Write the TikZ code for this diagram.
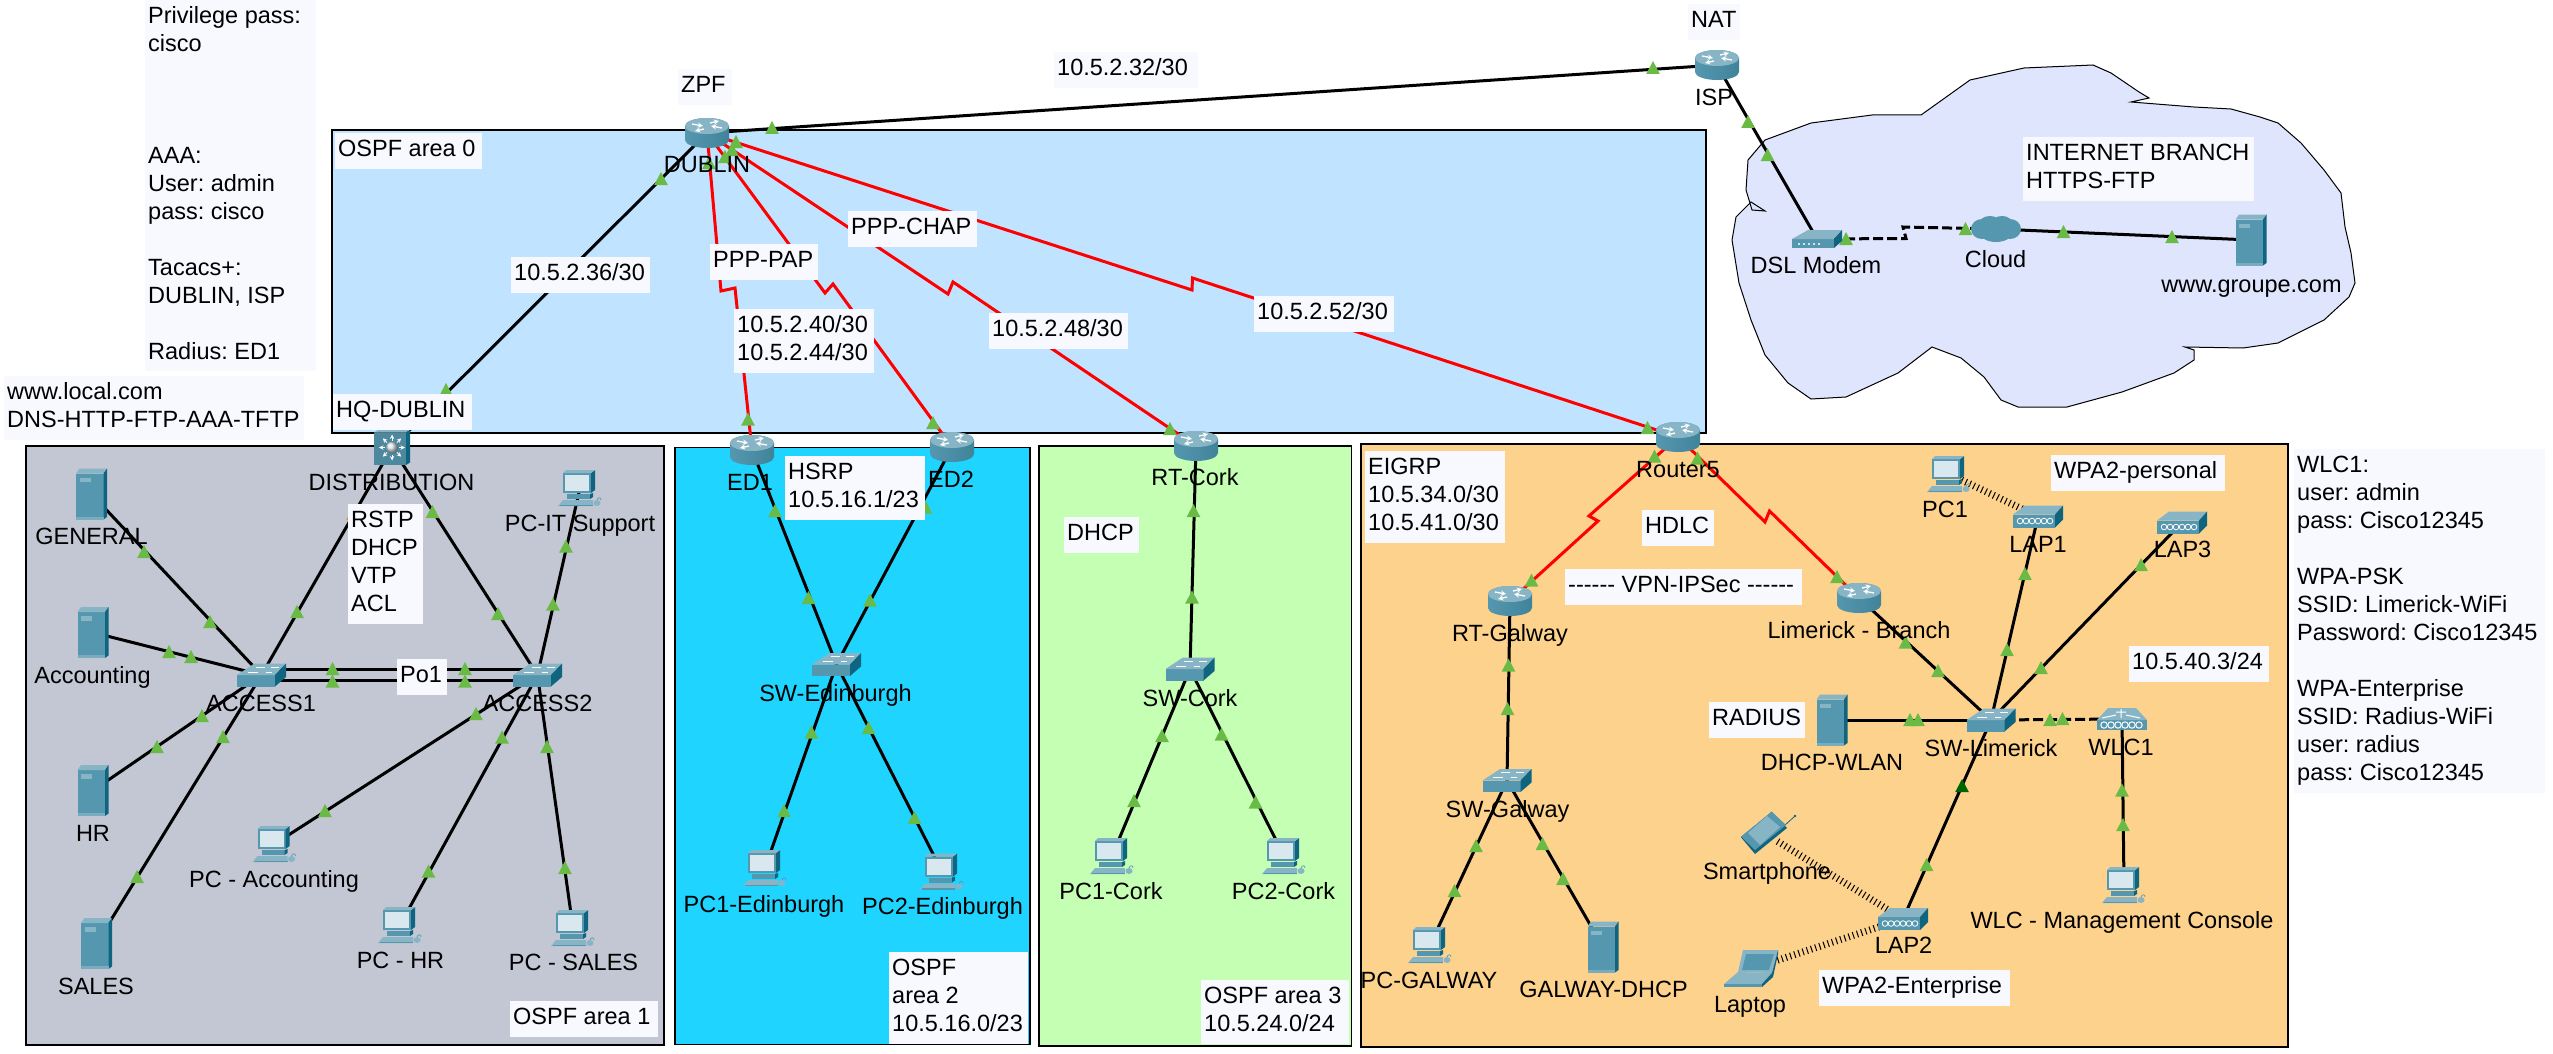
\documentclass[tikz,border=0pt]{standalone}
\usepackage{fontspec}
\setmainfont{Liberation Sans}
\usetikzlibrary{backgrounds}
\definecolor{zonezero}{HTML}{C0E3FF}
\definecolor{zoneone}{HTML}{C3C6D3}
\definecolor{zonetwo}{HTML}{1FD4FF}
\definecolor{zonethree}{HTML}{C4FFB4}
\definecolor{zonefive}{HTML}{FDD28D}
\definecolor{zonecloud}{HTML}{DFE5FC}
\definecolor{notefill}{HTML}{F8F9FF}
\definecolor{lampgreen}{HTML}{6ABB46}
\definecolor{lampdark}{HTML}{006400}
\definecolor{lamporange}{HTML}{F08A24}
\definecolor{icontop}{HTML}{88B5C6}
\definecolor{iconfront}{HTML}{5597AF}
\definecolor{iconside}{HTML}{0F6480}
\definecolor{iconpale}{HTML}{D8E8EE}
\newcommand{\lbl}{\fontsize{23.5}{28}\selectfont\frenchspacing}
\newcommand{\iconscope}{\tikzset{shift={(path picture bounding box.center)},x=1pt,y=1pt}}
\newcommand{\routergfx}{\begin{scope}\iconscope
  \shade[left color=iconfront,middle color=iconpale,right color=iconside!80!white] (-22,7) -- (-22,-7) arc (180:360:22 and 8) -- (22,7) arc (0:180:22 and 8) -- cycle;
  \fill[icontop] (0,7) ellipse (22 and 8);
  \draw[white,line width=1.3pt,->,>=stealth] (-15,9) -- (-4,7);
  \draw[white,line width=1.3pt,->,>=stealth] (15,5) -- (4,7);
  \draw[white,line width=1.3pt,->,>=stealth] (-3,4) -- (-12,2);
  \draw[white,line width=1.3pt,->,>=stealth] (3,10) -- (12,12);
\end{scope}}
\newcommand{\switchgfx}{\begin{scope}\iconscope
  \fill[iconfront] (-24.5,0) rectangle (13.5,-11.5);
  \fill[icontop] (-24.5,0) -- (-7,11.5) -- (24.5,11.5) -- (13.5,0) -- cycle;
  \fill[iconside] (13.5,0) -- (24.5,11.5) -- (24.5,-2) -- (13.5,-11.5) -- cycle;
  \draw[white,line width=.9pt] (-14,3) -- (-4,3) (-6,8) -- (3,8) (4,3) -- (10,3) (9,8) -- (17,8);
\end{scope}}
\newcommand{\servergfx}{\begin{scope}\iconscope
  \fill[iconfront] (-15.5,-25.5) rectangle (12,20.5);
  \fill[icontop] (-15.5,20.5) -- (-12,25.5) -- (15.5,25.5) -- (12,20.5) -- cycle;
  \fill[iconside] (12,20.5) -- (15.5,25.5) -- (15.5,-23) -- (12,-25.5) -- cycle;
  \fill[icontop] (-12,12) rectangle (-1,16.5);
  \fill[icontop!70!iconfront] (-15.5,-25.5) rectangle (12,-22.5);
\end{scope}}
\newcommand{\pcgfx}{\begin{scope}\iconscope
  \fill[iconfront] (-17,15) rectangle (11,-5);
  \fill[iconpale] (-15,13) rectangle (9,-3);
  \fill[iconside] (11,15) -- (15,18) -- (15,-2) -- (11,-5) -- cycle;
  \fill[icontop] (-17,15) -- (-14,18) -- (15,18) -- (11,15) -- cycle;
  \fill[iconfront] (-13,-6) rectangle (10,-11);
  \fill[iconside] (10,-6) -- (13,-5) -- (13,-9) -- (10,-11) -- cycle;
  \fill[icontop] (-22,-18) -- (-17,-12) -- (13,-12) -- (13,-18) -- cycle;
  \fill[iconfront] (-20,-18) rectangle (13,-16.5);
  \fill[icontop] (17,-15) ellipse (3.5 and 3);
  \draw[iconfront,line width=.7pt] (17,-12) .. controls (18,-9) and (21,-9) .. (21,-12);
\end{scope}}
\newcommand{\lapgfx}{\begin{scope}\iconscope
  \fill[iconfront] (-25,2) rectangle (17,-11);
  \fill[icontop] (-25,2) -- (-13,11) -- (25,11) -- (17,2) -- cycle;
  \fill[iconside] (17,2) -- (25,11) -- (25,-3) -- (17,-11) -- cycle;
  \foreach \cx in {-17,-11,-5,1,7,13} {\draw[white,line width=.8pt] (\cx-1,-4.5) circle (2.8);}
\end{scope}}
\newcommand{\wlcgfx}{\begin{scope}\iconscope
  \fill[iconfront] (-25,-1) rectangle (25,-11);
  \fill[icontop] (-25,-1) -- (-14,11) -- (14,11) -- (25,-1) -- cycle;
  \foreach \cx in {-18,-11,-4,3,10,17} {\draw[white,line width=1pt] (\cx,-6) circle (3.2);}
  \draw[white,line width=1pt] (-1,10) -- (-1,1) (-6,7) -- (4,7) (-20,1) -- (-6,4) (18,1) -- (4,4);
\end{scope}}
\newcommand{\modemgfx}{\begin{scope}\iconscope
  \fill[iconfront] (-25,0) rectangle (17,-9);
  \fill[icontop] (-25,0) -- (-9,9) -- (25,9) -- (17,0) -- cycle;
  \fill[iconside] (17,0) -- (25,9) -- (25,-2) -- (17,-9) -- cycle;
  \foreach \cx in {-18,-13,-8,-3,2} {\fill[white] (\cx,-5) circle (1.2);}
\end{scope}}
\newcommand{\cloudgfx}{\begin{scope}\iconscope
  \shade[left color=iconfront,middle color=icontop,right color=iconfront] (-14,0) ellipse (11 and 10) (14,0) ellipse (11 and 10) (-6,5) ellipse (11 and 8) (6,6) ellipse (10 and 7) (0,-4) ellipse (16 and 9);
\end{scope}}
\newcommand{\multilayergfx}{\begin{scope}\iconscope
  \fill[iconfront!90!black] (-18,-17.5) rectangle (14,15);
  \fill[icontop] (-18,15) -- (-14,17.5) -- (18,17.5) -- (14,15) -- cycle;
  \fill[iconside] (14,15) -- (18,17.5) -- (18,-15) -- (14,-17.5) -- cycle;
  \foreach \a in {0,45,...,315} {\draw[white,line width=1pt,->,>=stealth] (\a:7) -- (\a:13);}
  \shade[ball color=iconpale] (0,0) circle (6);
\end{scope}}
\newcommand{\laptopgfx}{\begin{scope}\iconscope
  \fill[icontop] (-8,19) -- (27,19) -- (21,-4) -- (-13,-3) -- cycle;
  \fill[iconfront] (-5,15) -- (23,15) -- (18,-1) -- (-9,-1) -- cycle;
  \fill[icontop] (-13,-3) -- (21,-4) -- (11,-15) -- (-27,-15) -- cycle;
  \fill[iconfront] (-27,-15) -- (11,-15) -- (11,-18) -- (-27,-18) -- cycle;
  \fill[iconside] (21,-4) -- (27,19) -- (27,15) -- (22,-8) -- (11,-18) -- (11,-15) -- cycle;
\end{scope}}
\newcommand{\phonegfx}{\begin{scope}\iconscope
  \draw[iconside,line width=.8pt] (21,8) -- (31,17);
  \fill[iconside] (31,17) circle (1.4);
  \fill[iconside] (7.7,21.3) -- (23,5) -- (-9,-21) -- (-23,-4.3) -- cycle;
  \fill[iconfront] (7.7,21.3) -- (22,8) -- (-9,-17) -- (-23,-3.5) -- cycle;
  \fill[icontop] (-16,0) -- (3,17) -- (16,6) -- (-4,-12) -- cycle;
\end{scope}}
\tikzset{
  wire/.style={black,line width=3pt},
  wiredash/.style={wire,dash pattern=on 10pt off 4pt},
  serial/.style={red,line width=3pt,line join=miter},
  radio/.style={black,line width=7pt,dash pattern=on 1pt off 3.4pt},
  zone/.style={draw=black,line width=1.5pt},
  lamp/.style={lampgreen},
  tag/.style={font=\lbl,inner sep=0pt,anchor=base,yshift=-8.4pt},
  note/.style 2 args={font=\lbl,fill=notefill,anchor=north west,align=flush left,inner xsep=3pt,inner ysep=0pt,
    text width=#1-6,minimum height=#2,execute at begin node=\strut,execute at end node=\strut},
  routerdev/.style={inner sep=0pt,minimum width=46pt,minimum height=32pt,path picture={\routergfx}},
  switchdev/.style={inner sep=0pt,minimum width=50pt,minimum height=24pt,path picture={\switchgfx}},
  serverdev/.style={inner sep=0pt,minimum width=32pt,minimum height=52pt,path picture={\servergfx}},
  pcdev/.style={inner sep=0pt,minimum width=46pt,minimum height=37pt,path picture={\pcgfx}},
  lapdev/.style={inner sep=0pt,minimum width=51pt,minimum height=23pt,path picture={\lapgfx}},
  wlcdev/.style={inner sep=0pt,minimum width=51pt,minimum height=23pt,path picture={\wlcgfx}},
  modemdev/.style={inner sep=0pt,minimum width=51pt,minimum height=19pt,path picture={\modemgfx}},
  clouddev/.style={inner sep=0pt,minimum width=50pt,minimum height=27pt,path picture={\cloudgfx}},
  multilayerdev/.style={inner sep=0pt,minimum width=37pt,minimum height=36pt,path picture={\multilayergfx}},
  laptopdev/.style={inner sep=0pt,minimum width=56pt,minimum height=38pt,path picture={\laptopgfx}},
  phonedev/.style={inner sep=0pt,minimum width=66pt,minimum height=46pt,path picture={\phonegfx}},
}
\begin{document}
\begin{tikzpicture}[x=1pt,y=-1pt]
  \useasboundingbox (0,0) rectangle (2553,1054);
  \foreach \nm/\x/\y/\tx/\ty/\txt in {dublin/707/133/707/164/DUBLIN,isp/1717/65/1714/97/ISP,ed1/752/450/750/482/ED1,ed2/952/447/951/479/ED2,
      rtcork/1196/446/1195/477/RT-Cork,router5/1678/437/1678/469/Router5,rtgalway/1510/601/1510/633/RT-Galway,branch/1859/598/1859/630/Limerick - Branch} {
    \node[routerdev] (\nm) at (\x,\y) {};
    \node[tag] (\nm-tag) at (\tx,\ty) {\txt};
  }
  \foreach \nm/\x/\y/\tx/\ty/\txt in {access1/261.5/675/261/703/ACCESS1,access2/537.5/675/537.5/703/ACCESS2,swedin/836.5/664.5/835.5/693/SW-Edinburgh,
      swcork/1190/669/1190/698/SW-Cork,swgalway/1507/780.5/1507.5/809.5/SW-Galway,swlimerick/1991/720/1991/748/SW-Limerick} {
    \node[switchdev] (\nm) at (\x,\y) {};
    \node[tag] (\nm-tag) at (\tx,\ty) {\txt};
  }
  \foreach \nm/\x/\y/\tx/\ty/\txt in {general/91.5/494/91.5/536.5/GENERAL,accounting/93/632.5/92.5/675/Accounting,hr/93/790.5/93/833/HR,sales/96.5/943.5/96/986/SALES,
      groupe/2251/240/2251.5/284/www.groupe.com,dhcpwlan/1832/720/1832/762/DHCP-WLAN,galwaydhcp/1603/947/1603.5/989/GALWAY-DHCP} {
    \node[serverdev] (\nm) at (\x,\y) {};
    \node[tag] (\nm-tag) at (\tx,\ty) {\txt};
  }
  \foreach \nm/\x/\y/\tx/\ty/\txt in {pcit/580/488/580/523/PC-IT Support,pcacc/274.5/844/274/879/PC - Accounting,pchr/400/925/400.5/960/PC - HR,pcsales/573/928/573.5/962.5/PC - SALES,
      pc1edin/765/868/764/904/PC1-Edinburgh,pc2edin/942/871.5/942.5/906.5/PC2-Edinburgh,pc1cork/1112/856/1111/891.5/PC1-Cork,pc2cork/1284/856/1283.5/891.5/PC2-Cork,
      pcgalway/1430/945/1429/980/PC-GALWAY,pc1/1949/474/1945/509/PC1,pcwlc/2124/885/2122/920/WLC - Management Console} {
    \node[pcdev] (\nm) at (\x,\y) {};
    \node[tag] (\nm-tag) at (\tx,\ty) {\txt};
  }
  \foreach \nm/\x/\y/\tx/\ty/\txt in {lap1/2038/516.5/2038/544/LAP1,lap2/1903/919/1903.5/945.5/LAP2,lap3/2182/522.5/2182.5/549/LAP3} {
    \node[lapdev] (\nm) at (\x,\y) {};
    \node[tag] (\nm-tag) at (\tx,\ty) {\txt};
  }
  \node[wlcdev] (wlc1) at (2122,719) {};
  \node[tag] (wlc1-tag) at (2121,747) {WLC1};
  \node[modemdev] (modem) at (1817,239) {};
  \node[tag] (modem-tag) at (1816,265) {DSL Modem};
  \node[clouddev] (cloud) at (1996,229) {};
  \node[tag] (cloud-tag) at (1995.5,259) {Cloud};
  \node[multilayerdev] (distribution) at (392,447.5) {};
  \node[tag] (distribution-tag) at (391.5,482) {DISTRIBUTION};
  \node[laptopdev] (laptop) at (1751,969) {};
  \node[tag] (laptop-tag) at (1750,1004) {Laptop};
  \node[phonedev] (phone) at (1764,833) {};
  \node[tag] (phone-tag) at (1767,871) {Smartphone};

  \node[note={54}{36}] (zpf) at (678,69) {ZPF};
  \node[note={144}{36}] (net32) at (1054,52) {10.5.2.32/30};
  \node[note={147}{36}] (area0) at (335,133) {OSPF area 0};
  \node[note={139}{36}] (hqdublin) at (333,394) {HQ-DUBLIN};
  \node[note={108}{36}] (pap) at (710,244) {PPP-PAP};
  \node[note={139}{36}] (net36) at (511,257) {10.5.2.36/30};
  \node[note={129}{36}] (chap) at (848,211) {PPP-CHAP};
  \node[note={140}{64}] (net40) at (734,309) {10.5.2.40/30\\10.5.2.44/30};
  \node[note={139}{36}] (net48) at (989,313) {10.5.2.48/30};
  \node[note={140}{36}] (net52) at (1254,296) {10.5.2.52/30};
  \node[note={52}{36}] (nat) at (1688,4) {NAT};
  \node[note={231}{64}] (inet) at (2023,137) {INTERNET BRANCH\\HTTPS-FTP};
  \node[note={174}{36}] (wpapersonal) at (2051,455) {WPA2-personal};
  \node[note={140}{36}] (net403) at (2129,646) {10.5.40.3/24};
  \node[note={171}{371}] (access) at (145,0) {Privilege pass:\\cisco\\[84pt]AAA:\\User: admin\\pass: cisco\\[28pt]Tacacs+:\\DUBLIN, ISP\\[28pt]Radius: ED1};
  \node[note={300}{64}] (wwwlocal) at (4,376) {www.local.com\\DNS-HTTP-FTP-AAA-TFTP};
  \node[note={75}{120}] (rstp) at (348,504) {RSTP\\DHCP\\VTP\\ACL};
  \node[note={50}{36}] (po1) at (397,659) {Po1};
  \node[note={148}{36}] (area1) at (510,1001) {OSPF area 1};
  \node[note={140}{64}] (hsrp) at (785,456) {HSRP\\10.5.16.1/23};
  \node[note={139}{92}] (area2) at (889,952) {OSPF\\area 2\\10.5.16.0/23};
  \node[note={75}{36}] (dhcp) at (1064,517) {DHCP};
  \node[note={148}{64}] (area3) at (1201,980) {OSPF area 3\\10.5.24.0/24};
  \node[note={140}{92}] (eigrp) at (1365,451) {EIGRP\\10.5.34.0/30\\10.5.41.0/30};
  \node[note={72}{36}] (hdlc) at (1642,510) {HDLC};
  \node[note={237}{36}] (vpn) at (1565,569) {-{}-{}-{}-{}-{}- VPN-IPSec -{}-{}-{}-{}-{}-};
  \node[note={96}{36}] (radius) at (1709,702) {RADIUS};
  \node[note={191}{36}] (wpaent) at (1819,970) {WPA2-Enterprise};
  \node[note={251}{344}] (wlcnote) at (2294,449) {WLC1:\\user: admin\\pass: Cisco12345\\[28pt]WPA-PSK\\SSID: Limerick-WiFi\\Password: Cisco12345\\[28pt]WPA-Enterprise\\SSID: Radius-WiFi\\user: radius\\pass: Cisco12345};

  \begin{scope}[on background layer]
    \draw[zone,fill=zonezero] (332,130) rectangle (1706,433);
    \draw[zone,fill=zoneone] (26,446) rectangle (664,1045);
    \draw[zone,fill=zonetwo] (675,447.5) rectangle (1030,1044.5);
    \draw[zone,fill=zonethree] (1039,446) rectangle (1351.5,1046);
    \draw[zone,fill=zonefive] (1361,444) rectangle (2288,1047);
    \draw[zone,fill=zonecloud,line width=1pt] (2093,65) -- (2111,73) -- (2139,92) -- (2149,98) -- (2131,102) -- (2194,107) -- (2231,109) -- (2260,117) -- (2278,123)
      -- (2301,143) -- (2324,170) -- (2341,193) -- (2345,227) -- (2351,253) -- (2355,283) -- (2349,297) -- (2324,320) -- (2278,343) -- (2243,348)
      -- (2185,347) -- (2194,350) -- (2194,360) -- (2174,373) -- (2122,392) -- (2067,407) -- (2018,407) -- (2001,400) -- (1984,377) -- (1961,358)
      -- (1932,347) -- (1898,373) -- (1846,397) -- (1811,399) -- (1788,383) -- (1765,355) -- (1751,320) -- (1739,283) -- (1732,240) -- (1736,217)
      -- (1751,202) -- (1765,211) -- (1752,210) -- (1746,190) -- (1748,160) -- (1765,140) -- (1811,123) -- (1872,115) -- (1921,115) -- (1970,80) -- (2024,68) -- cycle;

    \draw[wire] (dublin.center) -- (isp.center);
    \draw[wire] (dublin.center) -- (distribution.center);
    \draw[wire] (isp.center) -- (modem.center);
    \draw[wire] (cloud.center) -- (groupe.center);
    \draw[wiredash] (modem.center) -- (1906,238.5) -- (1903,227) -- (cloud.center);
    \foreach \a/\b in {general/access1,accounting/access1,hr/access1,sales/access1,distribution/access1,distribution/access2,pcit/access2,pcacc/access2,pchr/access2,pcsales/access2,
        ed1/swedin,ed2/swedin,pc1edin/swedin,pc2edin/swedin,rtcork/swcork,pc1cork/swcork,pc2cork/swcork,
        rtgalway/swgalway,pcgalway/swgalway,galwaydhcp/swgalway,branch/swlimerick,lap1/swlimerick,lap3/swlimerick,dhcpwlan/swlimerick,lap2/swlimerick,pcwlc/wlc1} {
      \draw[wire] (\a.center) -- (\b.center);
    }
    \draw[wire] ([yshift=6pt]access1.center) -- ([yshift=6pt]access2.center);
    \draw[wire] ([yshift=-5pt]access1.center) -- ([yshift=-5pt]access2.center);
    \draw[wiredash] (swlimerick.center) -- (wlc1.center);
    \draw[serial] (dublin.center) -- (721,291) -- (735,288) -- (ed1.center);
    \draw[serial] (dublin.center) -- (825,293) -- (833,284) -- (ed2.center);
    \draw[serial] (dublin.center) -- (948,294) -- (953,282) -- (rtcork.center);
    \draw[serial] (dublin.center) -- (1192,290) -- (1192.5,278) -- (router5.center);
    \draw[serial] (router5.center) -- (1589,516) -- (1598,521) -- (rtgalway.center);
    \draw[serial] (router5.center) -- (1765,522) -- (1769.5,511) -- (branch.center);
    \draw[radio,shorten >=15pt,shorten <=14pt] (pc1.center) -- (lap1.center);
    \draw[radio,shorten >=14pt,shorten <=16pt] (phone.center) -- (lap2.center);
    \draw[radio,shorten >=22pt,shorten <=28pt] (laptop.center) -- (lap2.center);

    \foreach \x/\y in {661/179,709/163,725/157,732/150,736/142,772/128,1653/68,1748/122,1767.5/155,1846/239,1965.5/229,2063.5/232,2172/237,446/390,
        144/552,210/622,169/652,191/657,202/716,157/747,223/737,137/877,297/612,432.5/512,498/614,566/546.5,553/604.5,332.5/669,332.5/681.5,465/669,465/681.5,
        476/714,325/811,502/737.5,428.5/871.5,547/747,565/868,
        748/419.5,933/423,775/511,808.5/598,870/600.5,925.5/507.5,811.5/732.5,868.5/728,784/811,914.5/818,
        1170/429,1193.5/511,1192/597.5,1162/736,1221.5/734.5,1134/801,1255.5/802.5,
        1647.5/428,1654.5/456.5,1697.5/458.5,1531.5/580.5,1837/577,1508.5/665.5,1507.5/709,1476/846,1542.5/844,1454.5/891,1563/879,
        1905.5/642.5,1938/671,2025/574,2007/650,2141/565,2041/668,1910/720,1918/720,2050/720,2062.5/719,2122/790.5,2123/825,1926.5/865} {
      \fill[lamp] (\x,\y) +(0,-7) -- +(6.8,6) -- +(-6.8,6) -- cycle;
    }
    \fill[lampdark] (1962,786) +(0,-7) -- +(6.8,6) -- +(-6.8,6) -- cycle;
    \fill[lamporange] (353,514) +(0,-7) -- +(6.8,6) -- +(-6.8,6) -- cycle;
  \end{scope}
\end{tikzpicture}
\end{document}
